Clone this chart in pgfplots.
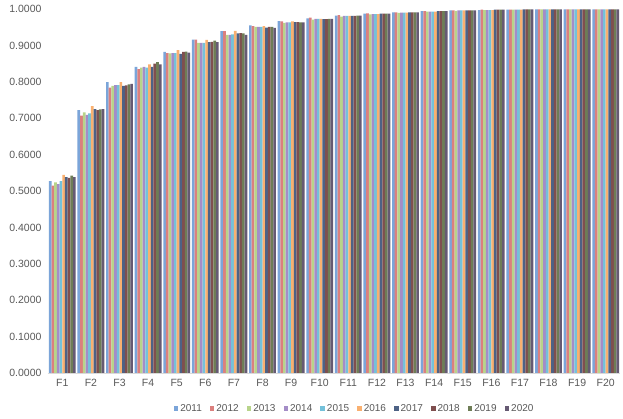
\documentclass[border=0pt]{standalone}
\usepackage{fontspec}
\setmainfont{Liberation Sans}
\usepackage{pgfplots}
\usepackage{pgfplotstable}
\pgfplotsset{compat=1.18}

\definecolor{c2011}{HTML}{7BA5D9}
\definecolor{c2012}{HTML}{DB807E}
\definecolor{c2013}{HTML}{B8D48A}
\definecolor{c2014}{HTML}{A48DC7}
\definecolor{c2015}{HTML}{74C1DA}
\definecolor{c2016}{HTML}{F9B070}
\definecolor{c2017}{HTML}{4D6285}
\definecolor{c2018}{HTML}{7F4F4F}
\definecolor{c2019}{HTML}{6E7D56}
\definecolor{c2020}{HTML}{665A73}
\definecolor{txt}{HTML}{595959}

\pgfplotstableread{
x  a     b     c     d     e     f     g     h     i     j
1  0.527 0.515 0.524 0.519 0.527 0.544 0.538 0.536 0.542 0.538
2  0.722 0.707 0.716 0.709 0.713 0.733 0.725 0.722 0.724 0.725
3  0.799 0.784 0.789 0.791 0.791 0.799 0.789 0.790 0.793 0.794
4  0.841 0.835 0.839 0.841 0.839 0.848 0.841 0.850 0.854 0.848
5  0.882 0.879 0.878 0.879 0.879 0.887 0.877 0.882 0.883 0.880
6  0.916 0.916 0.907 0.907 0.907 0.915 0.909 0.910 0.913 0.909
7  0.939 0.939 0.929 0.929 0.930 0.940 0.933 0.934 0.933 0.929
8  0.955 0.953 0.951 0.951 0.951 0.953 0.949 0.951 0.951 0.948
9  0.967 0.966 0.962 0.963 0.963 0.966 0.964 0.964 0.963 0.963
10 0.974 0.976 0.971 0.973 0.973 0.973 0.972 0.972 0.973 0.973
11 0.982 0.983 0.979 0.981 0.981 0.981 0.981 0.981 0.982 0.982
12 0.987 0.988 0.985 0.986 0.986 0.986 0.987 0.987 0.987 0.987
13 0.991 0.991 0.989 0.990 0.990 0.990 0.991 0.991 0.991 0.991
14 0.994 0.994 0.993 0.993 0.993 0.993 0.994 0.994 0.994 0.994
15 0.996 0.996 0.995 0.996 0.996 0.996 0.996 0.996 0.996 0.996
16 0.997 0.998 0.997 0.997 0.997 0.997 0.998 0.998 0.998 0.998
17 0.998 0.998 0.998 0.998 0.998 0.998 0.999 0.999 0.999 0.999
18 0.999 0.999 0.999 0.999 0.999 0.999 0.999 0.999 0.999 0.999
19 0.999 0.999 0.999 0.999 0.999 0.999 0.999 0.999 0.999 0.999
20 0.999 0.999 0.999 0.999 0.999 0.999 0.999 0.999 0.999 0.999
}\data

\begin{document}
\begin{tikzpicture}[font=\fontsize{10}{12}\selectfont]
\begin{axis}[
    scale only axis,
    width=572pt, height=364pt,
    xmin=0.5, xmax=20.5,
    ymin=0, ymax=1,
    ybar=0pt,
    bar width=0.094,
    xtick={1,...,20},
    xticklabels={F1,F2,F3,F4,F5,F6,F7,F8,F9,F10,F11,F12,F13,F14,F15,F16,F17,F18,F19,F20},
    ytick distance=0.1,
    yticklabel style={xshift=-3pt, font=\fontsize{10.5}{12}\selectfont, /pgf/number format/fixed, /pgf/number format/fixed zerofill, /pgf/number format/precision=4},
    /pgf/number format/assume math mode=true,
    tick label style={text=txt},
    major tick length=0pt,
    axis x line*=bottom,
    axis y line*=left,
    x axis line style={draw=black!15, line width=0.6pt, -},
    y axis line style={draw=none},
    xticklabel style={yshift=-3pt, font=\fontsize{10.5}{12}\selectfont},
    legend columns=10,
    legend style={draw=none, at={(0.536,-0.097)}, anchor=center,
        font=\fontsize{10}{12}\selectfont, text=txt,
        /tikz/every even column/.append style={column sep=6pt}},
    legend image code/.code={\fill[#1] (0pt,-2.3pt) rectangle (4.6pt,2.3pt);},
]
\addplot[draw=none, fill=c2011] table[x=x,y=a]{\data}; \addlegendentry{2011}
\addplot[draw=none, fill=c2012] table[x=x,y=b]{\data}; \addlegendentry{2012}
\addplot[draw=none, fill=c2013] table[x=x,y=c]{\data}; \addlegendentry{2013}
\addplot[draw=none, fill=c2014] table[x=x,y=d]{\data}; \addlegendentry{2014}
\addplot[draw=none, fill=c2015] table[x=x,y=e]{\data}; \addlegendentry{2015}
\addplot[draw=none, fill=c2016] table[x=x,y=f]{\data}; \addlegendentry{2016}
\addplot[draw=none, fill=c2017] table[x=x,y=g]{\data}; \addlegendentry{2017}
\addplot[draw=none, fill=c2018] table[x=x,y=h]{\data}; \addlegendentry{2018}
\addplot[draw=none, fill=c2019] table[x=x,y=i]{\data}; \addlegendentry{2019}
\addplot[draw=none, fill=c2020] table[x=x,y=j]{\data}; \addlegendentry{2020}
\end{axis}
\path (-48pt,-46pt) rectangle (575pt,373pt);
\end{tikzpicture}
\end{document}
